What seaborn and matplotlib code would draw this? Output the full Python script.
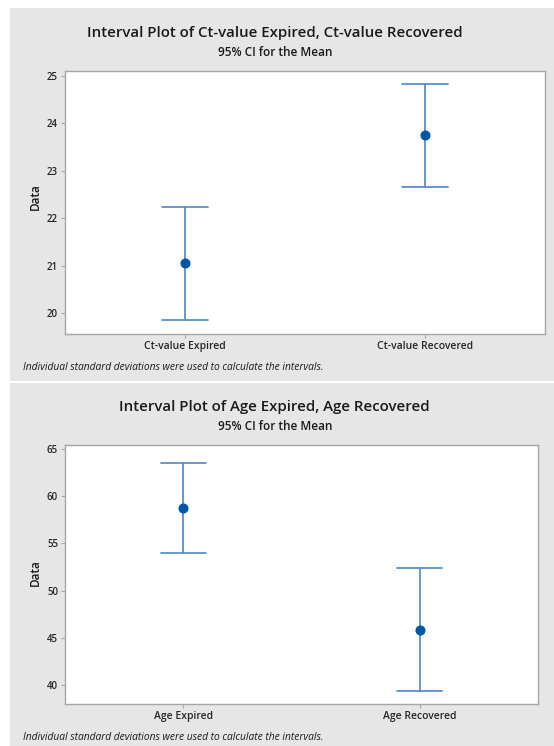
import matplotlib
matplotlib.use("Agg")
import matplotlib.pyplot as plt
import seaborn as sns
import pandas as pd
from matplotlib.patches import Rectangle

# Data (lower CI, mean, upper CI)
ct_groups = ["Ct-value Expired", "Ct-value Recovered"]
ct_lower = [19.85, 22.65]
ct_mean = [21.05, 23.75]
ct_upper = [22.23, 24.82]

age_groups = ["Age Expired", "Age Recovered"]
age_lower = [54.0, 39.35]
age_mean = [58.8, 45.85]
age_upper = [63.5, 52.35]

ct_ticks = [20, 21, 22, 23, 24, 25]
age_ticks = [40, 45, 50, 55, 60, 65]

sns.set_style("white")
plt.rcParams["font.family"] = ["Open Sans", "DejaVu Sans"]

PANEL = "#e6e6e6"
LINE = "#5b8fcb"
DOT = "#0055a5"
FRAME = "#a6a6a6"


def make_frame(groups, lower, mean, upper):
    # three rows per group: the median is the mean, the full range is the CI
    rows = []
    for g, lo, m, hi in zip(groups, lower, mean, upper):
        rows += [(g, lo), (g, m), (g, hi)]
    return pd.DataFrame(rows, columns=["group", "value"])


def interval_plot(ax, df, ticks, ylim, title_y, sub_y, note_y, label_y):
    sns.pointplot(data=df, x="group", y="value", estimator="median",
                  errorbar=("pi", 100), capsize=0.19, linestyle="none",
                  color=LINE, marker="o", markersize=5.2,
                  err_kws={"linewidth": 1.3, "color": LINE}, ax=ax)
    for coll in ax.lines:
        if coll.get_marker() == "o":
            coll.set_markerfacecolor(DOT)
            coll.set_markeredgecolor(DOT)
            coll.set_zorder(5)
    ax.set_xlim(-0.5, 1.5)
    ax.set_ylim(*ylim)
    ax.set_yticks(ticks)
    ax.set_xlabel("")
    ax.set_ylabel("")
    ax.set_facecolor("white")
    for s in ax.spines.values():
        s.set_color(FRAME)
        s.set_linewidth(1.0)
    ax.tick_params(axis="both", length=3, width=0.8, color=FRAME,
                   labelsize=7, pad=2, direction="out")
    for lab in ax.get_xticklabels() + ax.get_yticklabels():
        lab.set_fontweight("semibold")
    ax.tick_params(axis="x", labelsize=7.5)
    ax.tick_params(bottom=True, left=True)
    fig.text(0.496, title_y, ax_titles[ax], ha="center", va="center",
             fontsize=10.8, fontweight="semibold", color="#1a1a1a")
    fig.text(0.496, sub_y, "95% CI for the Mean", ha="center", va="center",
             fontsize=8.5, fontweight="semibold", color="#1a1a1a")
    fig.text(0.042, note_y,
             "Individual standard deviations were used to calculate the intervals.",
             ha="left", va="center", fontsize=7.4, style="italic", color="#1a1a1a")
    fig.text(0.063, label_y, "Data", ha="center", va="center", rotation=90,
             fontsize=8.5, fontweight="semibold", color="#1a1a1a")


fig = plt.figure(figsize=(5.54, 7.46), dpi=100, facecolor="white")

# grey panels behind each graph
fig.patches.append(Rectangle((10 / 554, 1 - 381 / 746), 544 / 554, 373 / 746,
                             transform=fig.transFigure, facecolor=PANEL,
                             edgecolor="none", zorder=-5))
fig.patches.append(Rectangle((10 / 554, 0), 544 / 554, 363 / 746,
                             transform=fig.transFigure, facecolor=PANEL,
                             edgecolor="none", zorder=-5))

ax1 = fig.add_axes([65 / 554, 1 - 334 / 746, 480 / 554, 263 / 746])
ax2 = fig.add_axes([65 / 554, 1 - 704 / 746, 473 / 554, 259 / 746])

ax_titles = {
    ax1: "Interval Plot of Ct-value Expired, Ct-value Recovered",
    ax2: "Interval Plot of Age Expired, Age Recovered",
}

interval_plot(ax1, make_frame(ct_groups, ct_lower, ct_mean, ct_upper),
              ct_ticks, (19.56, 25.1),
              1 - 33 / 746, 1 - 52 / 746, 1 - 367 / 746, 1 - 197 / 746)
interval_plot(ax2, make_frame(age_groups, age_lower, age_mean, age_upper),
              age_ticks, (37.98, 65.43),
              1 - 407 / 746, 1 - 426 / 746, 1 - 737 / 746, 1 - 573 / 746)

fig.savefig("out.png", dpi=100, facecolor="white")
